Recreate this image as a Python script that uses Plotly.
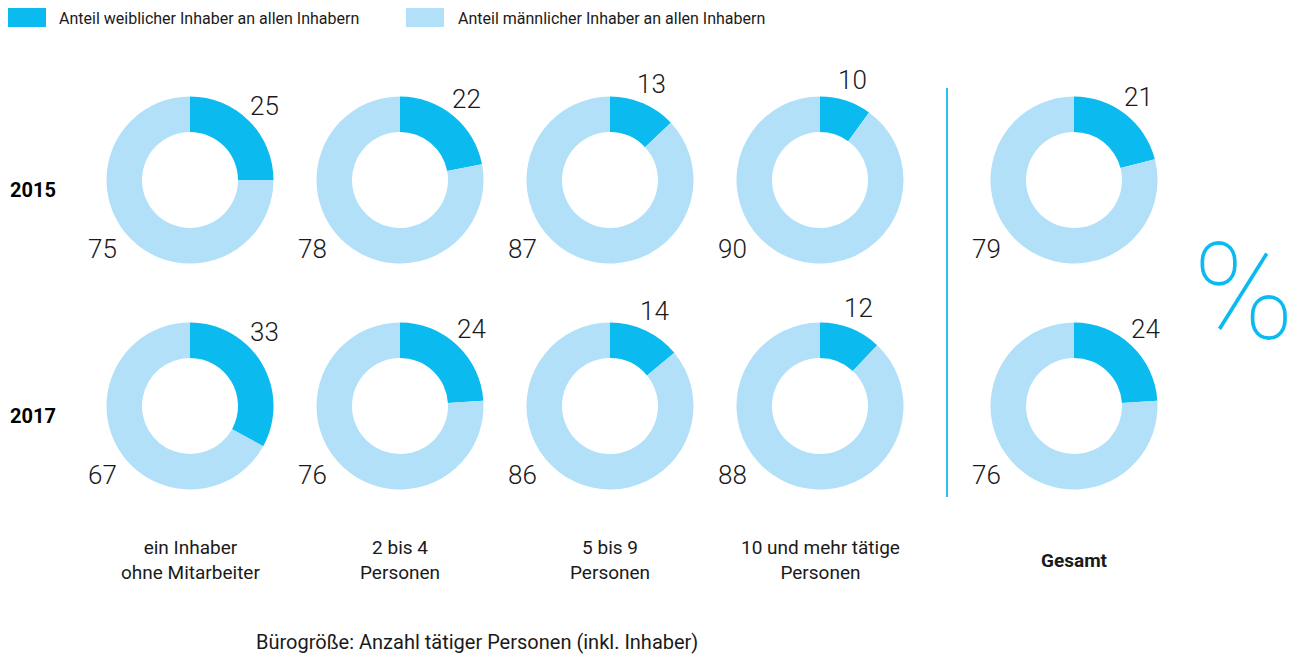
import math
import plotly.graph_objects as go

# ---- data ----
categories = ["ein Inhaber<br>ohne Mitarbeiter", "2 bis 4<br>Personen", "5 bis 9<br>Personen",
              "10 und mehr tätige<br>Personen", "<b>Gesamt</b>"]
years = ["2015", "2017"]
female_2015 = [25, 22, 13, 10, 21]
male_2015 = [75, 78, 87, 90, 79]
female_2017 = [33, 24, 14, 12, 24]
male_2017 = [67, 76, 86, 88, 76]
series_labels = ["Anteil weiblicher Inhaber an allen Inhabern", "Anteil männlicher Inhaber an allen Inhabern"]
axis_title = "Bürogröße: Anzahl tätiger Personen (inkl. Inhaber)"

# ---- styling / layout ----
OFF = 8  # page body margin
W, H = 1296 - OFF, 657 - OFF
C_F = "#0bbbef"
C_M = "#b1e0f8"
TXT = "#1a1a1a"
FONT = "Roboto"
col_x = [190, 400, 610, 820, 1074]
row_y = [180, 406]
R = 83.5
HOLE = 0.575


def px(x):
    return (x - OFF) / W


def py(y):
    return 1 - (y - OFF) / H


fig = go.Figure()
annotations = []
rows = [(female_2015, male_2015), (female_2017, male_2017)]

for r, (fem, mal) in enumerate(rows):
    cy = row_y[r]
    for c, cx in enumerate(col_x):
        fig.add_trace(go.Pie(
            values=[fem[c], mal[c]],
            labels=series_labels,
            marker=dict(colors=[C_F, C_M], line=dict(width=0)),
            hole=HOLE, sort=False, direction="clockwise", rotation=0,
            textinfo="none", hoverinfo="label+value",
            domain=dict(x=[px(cx - R), px(cx + R)], y=[py(cy + R), py(cy - R)]),
            showlegend=False,
        ))
        theta = math.radians(min(fem[c] * 1.8, 45))
        d = 105
        annotations.append(dict(
            x=px(cx + d * math.sin(theta)), y=py(cy - d * math.cos(theta)),
            xref="paper", yref="paper", text=str(fem[c]), showarrow=False,
            xanchor="center", yanchor="middle",
            font=dict(family=FONT, size=26, color=TXT, weight=300)))
        annotations.append(dict(
            x=px(cx - 88), y=py(cy + 69),
            xref="paper", yref="paper", text=str(mal[c]), showarrow=False,
            xanchor="center", yanchor="middle",
            font=dict(family=FONT, size=26, color=TXT, weight=300)))

# year labels
for r, yr in enumerate(years):
    annotations.append(dict(x=px(8), y=py(row_y[r] + 10), xref="paper", yref="paper",
                            text=f"<b>{yr}</b>", showarrow=False, xanchor="left", yanchor="middle",
                            font=dict(family=FONT, size=20, color="#000000")))

# category labels
for c, cx in enumerate(col_x):
    annotations.append(dict(x=px(cx), y=py(560), xref="paper", yref="paper",
                            text=categories[c], showarrow=False, xanchor="center", yanchor="middle",
                            font=dict(family=FONT, size=19, color=TXT)))

# axis title
annotations.append(dict(x=px(477), y=py(642), xref="paper", yref="paper", text=axis_title,
                        showarrow=False, xanchor="center", yanchor="middle",
                        font=dict(family=FONT, size=20, color=TXT)))

# percent sign
annotations.append(dict(x=px(1243), y=py(292), xref="paper", yref="paper", text="%",
                        showarrow=False, xanchor="center", yanchor="middle",
                        font=dict(family=FONT, size=136, color=C_F, weight=100)))

# legend (swatches + text)
shapes = []
leg = [(8, 57, C_F, series_labels[0]), (406, 456, C_M, series_labels[1])]
for sx, tx, col, lab in leg:
    shapes.append(dict(type="rect", xref="paper", yref="paper", x0=px(sx), x1=px(sx + 38),
                       y0=py(27), y1=py(8), fillcolor=col, line=dict(width=0)))
    annotations.append(dict(x=px(tx), y=py(18), xref="paper", yref="paper", text=lab,
                            showarrow=False, xanchor="left", yanchor="middle",
                            font=dict(family=FONT, size=16, color=TXT)))

# separator line
shapes.append(dict(type="line", xref="paper", yref="paper", x0=px(947), x1=px(947),
                   y0=py(497), y1=py(88), line=dict(color="#29c3ee", width=2)))

fig.update_layout(
    width=W, height=H, margin=dict(l=0, r=0, t=0, b=0),
    paper_bgcolor="white", plot_bgcolor="white",
    annotations=annotations, shapes=shapes, showlegend=False,
)
fig.write_html("out.html")
